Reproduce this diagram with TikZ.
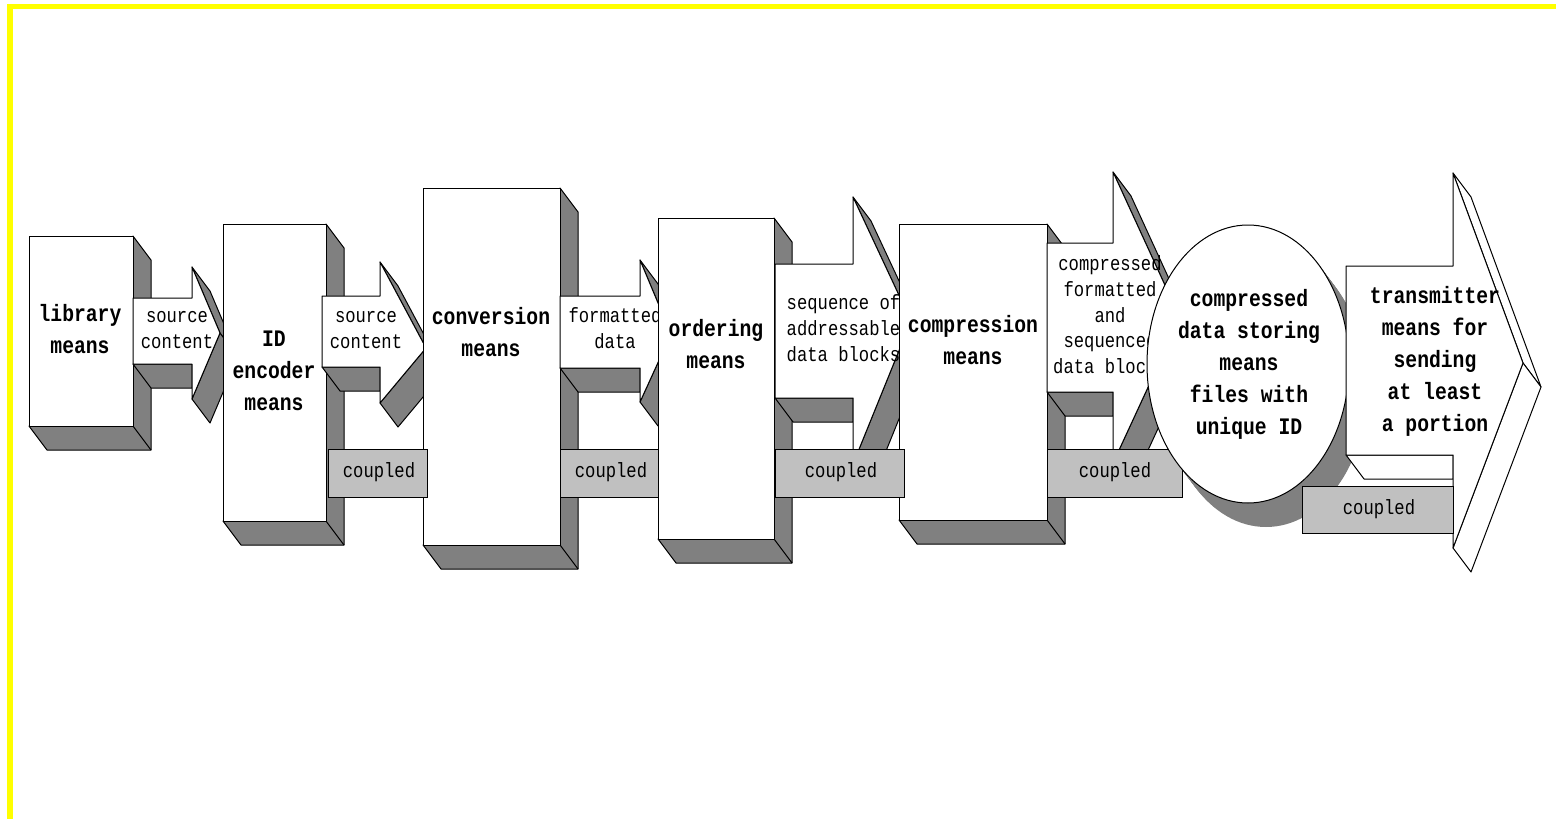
\documentclass[tikz,border=0pt]{standalone}
\usepackage{fontspec}
\setmonofont{Liberation Mono}
\usepackage{graphicx}
\definecolor{shadegray}{HTML}{808080}
\definecolor{cplgray}{HTML}{C0C0C0}
\definecolor{frameyellow}{HTML}{FFFF00}
\newcommand{\bigtxt}[1]{\scalebox{1}[1.2]{\fontsize{19.7}{26.7}\selectfont\ttfamily\bfseries\begin{tabular}{@{}c@{}}#1\end{tabular}}}
\newcommand{\smalltxt}[1]{\scalebox{1}[1.2]{\fontsize{17.2}{21.5}\selectfont\ttfamily\begin{tabular}{@{}c@{}}#1\end{tabular}}}
% extruded box: x0,y0,x1,y1
\newcommand{\xbox}[4]{%
  \filldraw[side] (#3,#2) -- ({#3+18},{#2+24}) -- ({#3+18},{#4+24}) -- ({#1+18},{#4+24}) -- (#1,#4) -- (#3,#4) -- cycle;
  \draw[side] (#3,#4) -- ({#3+18},{#4+24});
  \filldraw[front] (#1,#2) rectangle (#3,#4);
}
% extruded arrow: x0,x1,ytop,ybot,headtop,headbot,tipx,tipy,face style
\newcommand{\xarrow}[9]{%
  \filldraw[#9] (#1,#4) -- (#2,#4) -- (#2,{#4+24}) -- ({#1+18},{#4+24}) -- cycle;
  \filldraw[#9] (#2,#5) -- (#7,#8) -- ({#7+18},{#8+24}) -- ({#2+18},{#5+24}) -- cycle;
  \filldraw[#9] (#7,#8) -- (#2,#6) -- ({#2+18},{#6+24}) -- ({#7+18},{#8+24}) -- cycle;
  \filldraw[front] (#1,#3) -- (#2,#3) -- (#2,#5) -- (#7,#8) -- (#2,#6) -- (#2,#4) -- (#1,#4) -- cycle;
}
\tikzset{
  side/.style={fill=shadegray, draw=black, line width=1pt, line join=round},
  wside/.style={fill=white, draw=black, line width=1pt, line join=round},
  front/.style={fill=white, draw=black, line width=1pt, line join=round},
  cpl/.style={fill=cplgray, draw=black, line width=1pt},
  lbl/.style={inner sep=0pt, outer sep=0pt},
}
\begin{document}
\begin{tikzpicture}[x=1pt, y=-1pt]
\useasboundingbox (0,0) rectangle (1556,819);
% yellow frame
\fill[frameyellow] (7,4) rectangle (1556,9);
\fill[frameyellow] (7,4) rectangle (13,819);

% library means
\xbox{29}{236}{133}{426}
\node[lbl] (lib) at (80,331) {\bigtxt{library\\means}};

% arrow 1
\xarrow{133}{192}{298}{364}{267}{399}{220}{333}{side}
\node[lbl] (a1) at (177,330) {\smalltxt{source\\content}};

% ID encoder means
\xbox{223}{224}{326}{521}
\node[lbl] (idenc) at (274,372) {\bigtxt{ID\\encoder\\means}};

% arrow 2
\xarrow{322}{380}{296}{367}{262}{403}{426}{348}{side}
\node[lbl] (a2) at (366,330) {\smalltxt{source\\content}};

% conversion means
\xbox{423}{188}{560}{545}
\node[lbl] (conv) at (491,334) {\bigtxt{conversion\\means}};

% coupled 1
\filldraw[cpl] (328,449) rectangle (427,497);
\node[lbl] (c1) at (379,472) {\smalltxt{coupled}};

% arrow 3
\xarrow{560}{640}{296}{368}{260}{402}{671}{334}{side}
\node[lbl] (a3) at (615,330) {\smalltxt{formatted\\data}};

% ordering means
\xbox{658}{218}{774}{539}
\node[lbl] (ord) at (716,346) {\bigtxt{ordering\\means}};

% coupled 2
\filldraw[cpl] (560,449) rectangle (658,497);
\node[lbl] (c2) at (611,472) {\smalltxt{coupled}};

% arrow 4
\xarrow{775}{853}{264}{398}{197}{464}{911}{321}{side}
\node[lbl] (a4) at (843.5,330.5) {\smalltxt{sequence of\\addressable\\data blocks}};

% compression means
\xbox{899}{224}{1047}{520}
\node[lbl] (comp) at (973,342) {\bigtxt{compression\\means}};

% coupled 3
\filldraw[cpl] (775,449) rectangle (904,497);
\node[lbl] (c3) at (841,472) {\smalltxt{coupled}};

% arrow 5
\xarrow{1047}{1113}{243}{392}{172}{463}{1180}{318}{side}
\node[lbl] (a5) at (1110,317) {\smalltxt{compressed\\formatted\\and\\sequenced\\data blocks}};

% ellipse shadow
\foreach \t in {0,1,...,12} {
  \fill[shadegray] ({1248+1.5*\t},{364+2*\t}) ellipse [x radius=101, y radius=139];
}

% coupled 4
\filldraw[cpl] (1047,449) rectangle (1182,497);
\node[lbl] (c4) at (1115,472) {\smalltxt{coupled}};

% ellipse front
\filldraw[front] (1248,364) ellipse [x radius=101, y radius=139];
\node[lbl] (store) at (1249,364) {\bigtxt{compressed\\data storing\\means\\files with\\unique ID}};

% transmitter arrow
\xarrow{1346}{1453}{266}{455}{173}{548}{1523}{363}{wside}
\node[lbl] (trans) at (1435,361) {\bigtxt{transmitter\\means for\\sending\\at least\\a portion}};

% coupled 5
\filldraw[cpl] (1302,486) rectangle (1453,533);
\node[lbl] (c5) at (1379,509) {\smalltxt{coupled}};
\end{tikzpicture}
\end{document}
